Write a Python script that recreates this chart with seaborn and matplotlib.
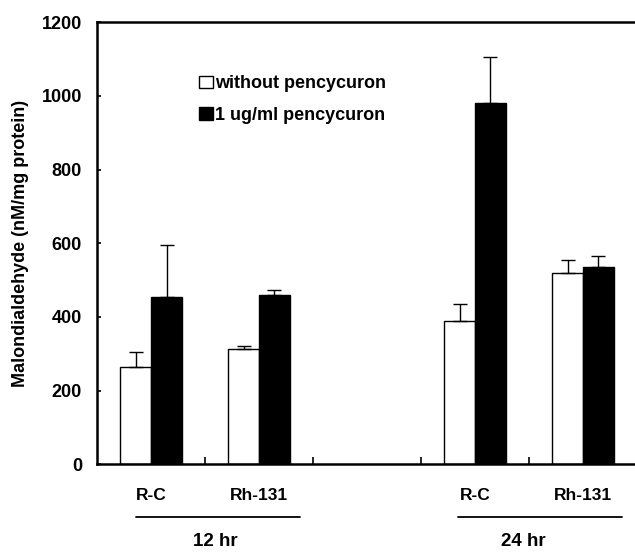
import numpy as np
import pandas as pd
import seaborn as sns
import matplotlib.pyplot as plt
from matplotlib.transforms import blended_transform_factory

# data
groups = ["12R", "12Rh", "gap", "24R", "24Rh"]
strain_labels = ["R-C", "Rh-131", "", "R-C", "Rh-131"]
treatments = ["without pencycuron", "1 ug/ml pencycuron"]
without_vals = [263, 312, 390, 520]
without_err = [42, 10, 45, 35]
with_vals = [455, 460, 980, 535]
with_err = [140, 12, 125, 30]
data_groups = ["12R", "12Rh", "24R", "24Rh"]
time_labels = ["12 hr", "24 hr"]

sns.set_style("ticks")
plt.rcParams['font.family'] = ['Liberation Sans', 'DejaVu Sans']
plt.rcParams['font.weight'] = 'bold'
plt.rcParams['text.color'] = 'black'
plt.rcParams['xtick.color'] = 'black'
plt.rcParams['ytick.color'] = 'black'
plt.rcParams['axes.labelcolor'] = 'black'
plt.rcParams['axes.edgecolor'] = 'black'

rows = []
for g, v, e in zip(data_groups, without_vals, without_err):
    rows.append({"group": g, "treatment": treatments[0], "value": v, "err": e})
for g, v, e in zip(data_groups, with_vals, with_err):
    rows.append({"group": g, "treatment": treatments[1], "value": v, "err": e})
df = pd.DataFrame(rows)

fig = plt.figure(figsize=(6.35, 5.54), dpi=100)
ax = fig.add_axes([0.153, 0.162, 0.85, 0.798])

sns.barplot(data=df, x="group", y="value", hue="treatment", order=groups,
            hue_order=treatments, palette=["white", "black"], width=0.57,
            gap=0, edgecolor="black", linewidth=1.0, errorbar=None, ax=ax)

# upper error bars only
err_lookup = {(r.group, r.treatment): r.err for r in df.itertuples()}
bar_containers = list(ax.containers)
for hi, cont in enumerate(bar_containers):
    for p in cont.patches:
        xc = p.get_x() + p.get_width() / 2
        gi = int(round(xc))
        if p.get_height() <= 0 or np.isnan(p.get_height()):
            continue
        e = err_lookup.get((groups[gi], treatments[hi]))
        if e is None:
            continue
        ax.errorbar(xc, p.get_height(), yerr=[[0], [e]], fmt="none",
                    ecolor="black", elinewidth=1.0, capsize=5, capthick=1.0)

ax.set_ylim(0, 1200)
ax.set_xlim(-0.5, 4.5)
ax.set_yticks([0, 200, 400, 600, 800, 1000, 1200])
ax.tick_params(axis="y", direction="in", length=3, labelsize=13, width=1.2, pad=11)
ax.set_xticks(range(len(groups)))
ax.set_xticklabels(strain_labels, fontsize=12.5, fontweight="bold")
ax.tick_params(axis="x", length=0, pad=17)
ax.set_xticks([0.5, 1.5, 2.5, 3.5], minor=True)
ax.tick_params(axis="x", which="minor", direction="in", length=5, width=1.2)
ax.set_xlabel("")
ax.set_ylabel("Malondialdehyde (nM/mg protein)", fontsize=13, fontweight="bold")
ax.yaxis.set_label_coords(-0.127, 0.5)
for s in ["left", "bottom", "top"]:
    ax.spines[s].set_linewidth(1.8)
ax.spines["right"].set_visible(False)

# time labels under the axis
trans = blended_transform_factory(ax.transData, ax.transAxes)
time_spans = [(-0.14, 1.38), (2.84, 4.36)]
time_pos = [0.59, 3.45]
for (x0, x1), lab, xp in zip(time_spans, time_labels, time_pos):
    ax.plot([x0, x1], [-0.12, -0.12], color="black", lw=1.3,
            transform=trans, clip_on=False)
    ax.text(xp, -0.175, lab, transform=trans, ha="center", va="center",
            fontsize=13.5, fontweight="bold")

leg = ax.legend(loc="upper left", bbox_to_anchor=(0.172, 0.9), frameon=False,
                fontsize=13, handlelength=0.75, handleheight=0.7,
                handletextpad=0.15, labelspacing=0.8, borderpad=0)
for t in leg.get_texts():
    t.set_fontweight("bold")

fig.savefig("out.png", dpi=100)
